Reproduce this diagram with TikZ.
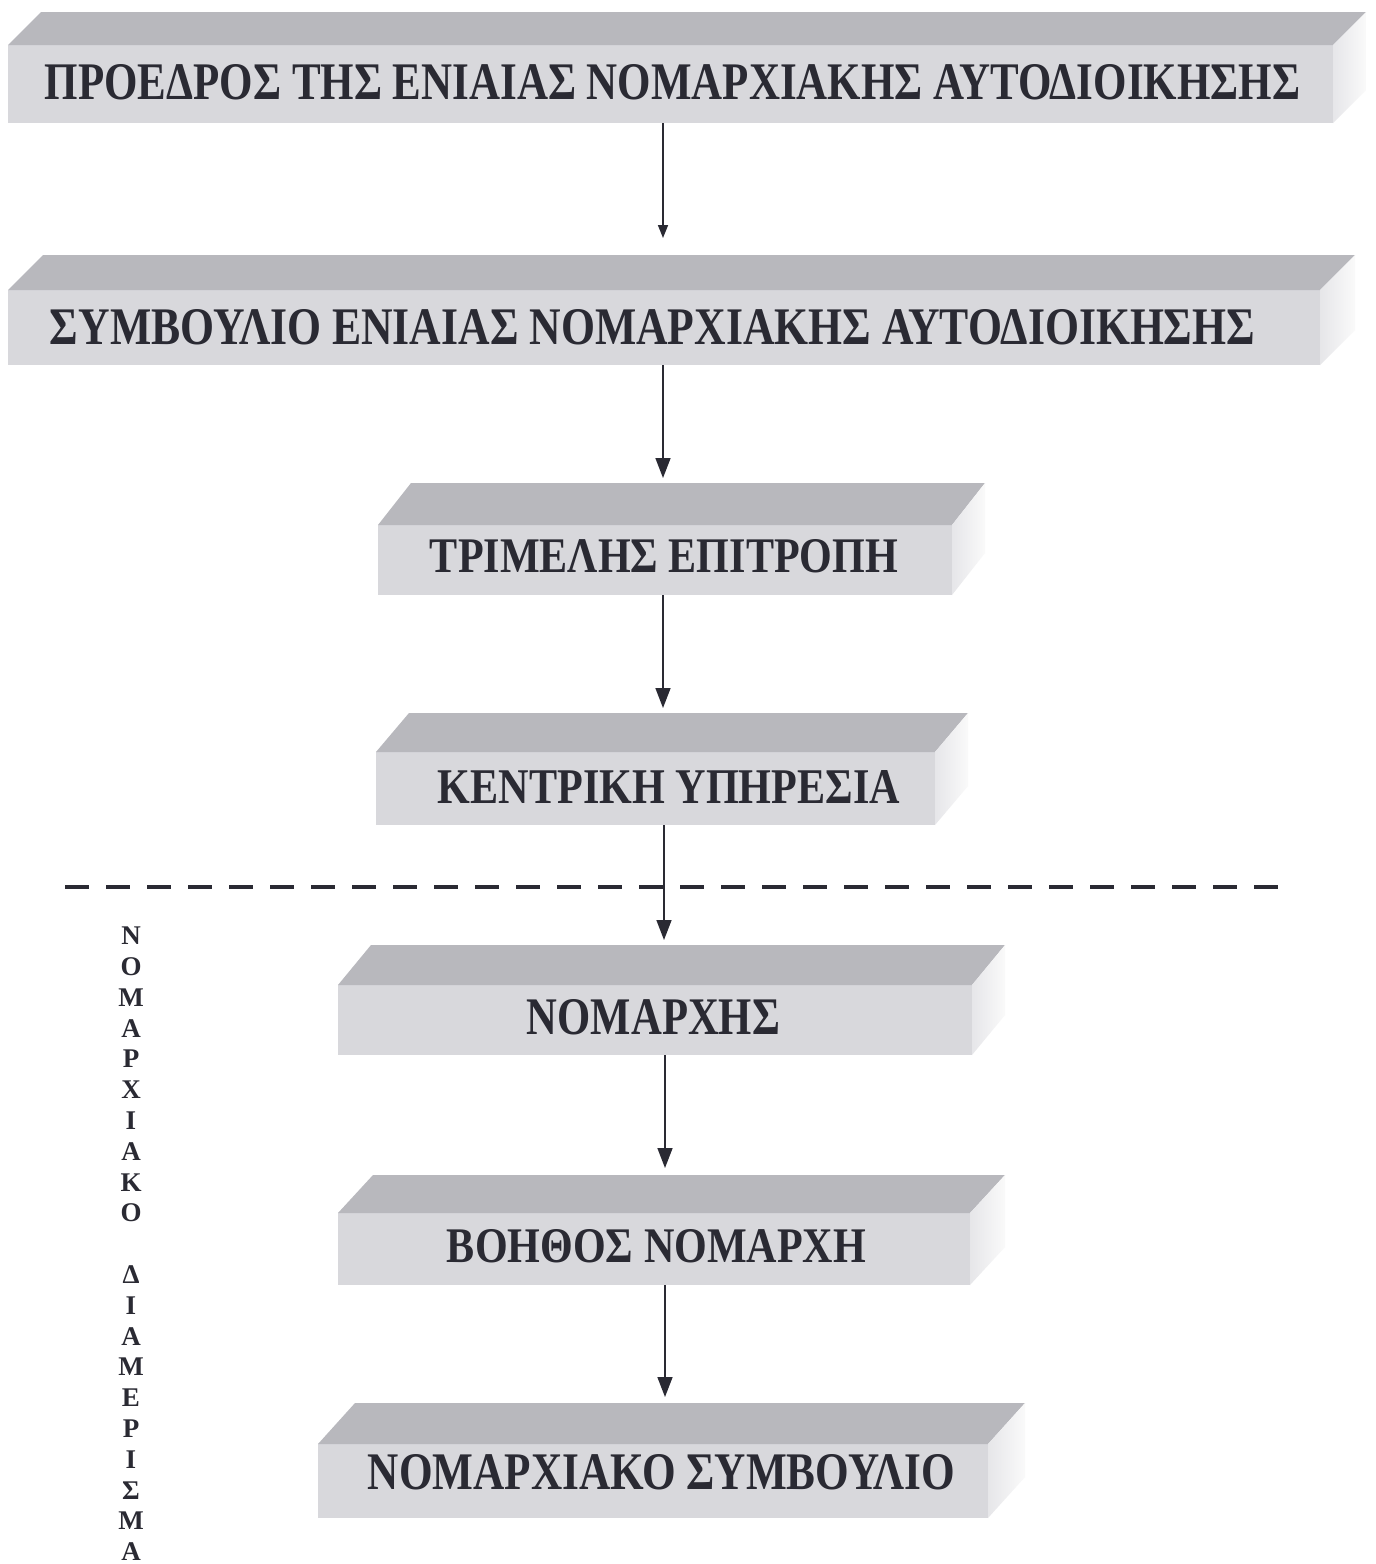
\documentclass[tikz,border=0pt]{standalone}
\usepackage{fontspec}
\usepackage{graphicx}
\setmainfont{Liberation Serif}
\usetikzlibrary{arrows.meta}

\definecolor{topgray}{HTML}{B8B8BD}
\definecolor{frontgray}{HTML}{D8D8DC}
\definecolor{sidegray}{HTML}{E6E6E9}
\definecolor{ink}{HTML}{2A2A33}

\tikzset{
  face/.style={draw=none, inner sep=0pt, outer sep=0pt, fill=frontgray},
  caption/.style={inner sep=0pt, outer sep=0pt, text=ink},
  link/.style={draw=ink, line width=1.6pt, -{Triangle[width=15pt,length=20pt]}},
  smalllink/.style={draw=ink, line width=1.6pt, -{Triangle[width=10pt,length=13pt]}},
  divider/.style={draw=ink, line width=4pt, dash pattern=on 24pt off 17pt},
}

% slab: name, x-left, x-right, front top, front bottom, depth dx, depth dy
\newcommand\slab[7]{%
  \node[face, minimum width={(#3-#2)*1pt}, minimum height={(#5-#4)*1pt}]
    (#1) at ({(#2+#3)/2},{(#4+#5)/2}) {};
  \fill[topgray] (#1.north west) -- ++(#6,-#7)
    -- ([shift={(#6,-#7)}]#1.north east) -- (#1.north east) -- cycle;
  \shade[left color=sidegray, right color=white!96!gray]
    (#1.north east) -- ++(#6,-#7)
    -- ([shift={(#6,-#7)}]#1.south east) -- (#1.south east) -- cycle;
}
% fitted bold caption: name, centre x, centre y, width, cap height, text
\newcommand\slabtext[6]{%
  \node[caption] (#1) at (#2,#3) {\resizebox{#4pt}{#5pt}{\bfseries #6}};
}

\begin{document}
\begin{tikzpicture}[x=1pt, y=-1pt]
  \fill[white] (0,0) rectangle (1376,1564);
  \useasboundingbox (0,0) rectangle (1376,1564);

  % the seven levels of the chart
  \slab{b1}{8}{1333}{45}{123}{33}{33}
  \slab{b2}{8}{1320}{290}{365}{35}{35}
  \slab{b3}{378}{952}{525}{595}{33}{42}
  \slab{b4}{376}{935}{752}{825}{33}{39}
  \slab{b5}{338}{972}{985}{1055}{33}{40}
  \slab{b6}{338}{970}{1213}{1285}{35}{38}
  \slab{b7}{318}{988}{1444}{1518}{37}{41}

  \slabtext{l1}{672.5}{82.5}{1255}{35}{ΠΡΟΕΔΡΟΣ ΤΗΣ ΕΝΙΑΙΑΣ ΝΟΜΑΡΧΙΑΚΗΣ ΑΥΤΟΔΙΟΙΚΗΣΗΣ}
  \slabtext{l2}{652.5}{327.5}{1205}{35}{ΣΥΜΒΟΥΛΙΟ ΕΝΙΑΙΑΣ ΝΟΜΑΡΧΙΑΚΗΣ ΑΥΤΟΔΙΟΙΚΗΣΗΣ}
  \slabtext{l3}{664}{556.5}{468}{33}{ΤΡΙΜΕΛΗΣ ΕΠΙΤΡΟΠΗ}
  \slabtext{l4}{669}{786.5}{462}{33}{ΚΕΝΤΡΙΚΗ ΥΠΗΡΕΣΙΑ}
  \slabtext{l5}{653.5}{1017.5}{253}{35}{ΝΟΜΑΡΧΗΣ}
  \slabtext{l6}{656.5}{1246.5}{419}{33}{ΒΟΗΘΟΣ ΝΟΜΑΡΧΗ}
  \slabtext{l7}{661.5}{1472.5}{587}{35}{ΝΟΜΑΡΧΙΑΚΟ ΣΥΜΒΟΥΛΙΟ}

  % arrow tips, just above each top face
  \coordinate (t1) at (663,238);
  \coordinate (t2) at (663,478);
  \coordinate (t3) at (663,708);
  \coordinate (t4) at (664,940);
  \coordinate (t5) at (665,1168);
  \coordinate (t6) at (665,1397);

  % boundary between central and prefectural level
  \coordinate (dL) at (65,887);
  \coordinate (dR) at (1285,887);
  \draw[divider] (dL) -- (dR);

  \draw[smalllink] (t1 |- b1.south) -- (t1);
  \draw[link] (t2 |- b2.south) -- (t2);
  \draw[link] (t3 |- b3.south) -- (t3);
  \draw[link] (t4 |- b4.south) -- (t4);
  \draw[link] (t5 |- b5.south) -- (t5);
  \draw[link] (t6 |- b6.south) -- (t6);

  % vertical side label
  \node[caption, anchor=north, align=center,
        font=\fontsize{27}{30.8}\selectfont\bfseries] (side) at (131,927)
    {Ν\\Ο\\Μ\\Α\\Ρ\\Χ\\Ι\\Α\\Κ\\Ο\\\mbox{}\\Δ\\Ι\\Α\\Μ\\Ε\\Ρ\\Ι\\Σ\\Μ\\Α};
\end{tikzpicture}
\end{document}
